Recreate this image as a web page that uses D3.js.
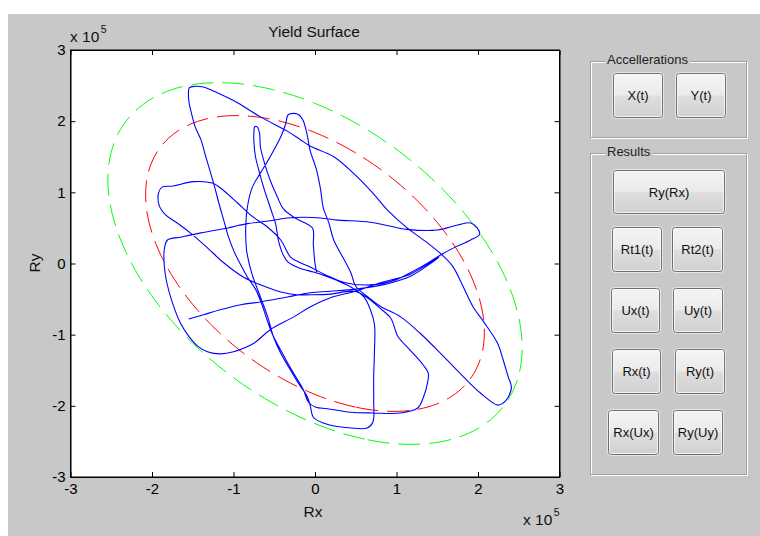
<!DOCTYPE html>
<html><head><meta charset="utf-8">
<script src="https://cdn.jsdelivr.net/npm/d3@7"></script>
<style>
body{margin:0;background:#ffffff;}
svg{display:block;}
text{font-family:"Liberation Sans",Arial,sans-serif;}
</style></head>
<body><svg id="c" width="760" height="536"></svg>
<script>
// ---------- data (values in units of 1e5) ----------
const xTicks = [-3, -2, -1, 0, 1, 2, 3];
const yTicks = [-3, -2, -1, 0, 1, 2, 3];
const yieldRadii = [1.84, 2.25];           // inner surface, outer surface
const yieldColors = ["#ff0000", "#00ff00"];
const yieldInteraction = 0.93;             // Rx^2 + Ry^2 + c*Rx*Ry = R^2
const responsePath = [
 [0.02,-0.12],[0.00,0.00],[-0.02,0.26],[-0.03,0.50],[-0.14,0.58],[-0.26,0.65],[-0.39,0.77],[-0.46,0.93],[-0.55,1.17],[-0.62,1.41],[-0.67,1.64],[-0.68,1.83],[-0.71,1.92],[-0.74,1.92],[-0.75,1.83],[-0.75,1.71],[-0.73,1.50],[-0.68,1.27],[-0.62,1.03],[-0.55,0.79],[-0.48,0.54],[-0.45,0.33],[-0.39,0.12],[-0.33,0.02],[-0.20,-0.06],[-0.02,-0.12],[0.07,-0.15],[0.25,-0.23],[0.44,-0.33],
 [0.60,-0.47],[0.68,-0.65],[0.73,-0.86],[0.73,-1.22],[0.72,-1.59],[0.72,-1.92],[0.71,-2.23],[0.64,-2.31],[0.35,-2.30],[0.10,-2.24],[-0.02,-2.16],[-0.06,-1.99],[-0.10,-1.86],[-0.20,-1.69],[-0.30,-1.50],[-0.42,-1.26],[-0.51,-1.03],[-0.58,-0.75],[-0.67,-0.47],[-0.78,-0.12],[-0.84,0.19],[-0.85,0.51],[-0.83,0.79],[-0.77,1.07],[-0.67,1.27],[-0.55,1.50],[-0.42,1.78],[-0.36,1.96],[-0.33,2.09],[-0.26,2.11],[-0.20,2.09],[-0.15,2.02],[-0.10,1.83],[-0.06,1.59],[0.02,1.31],[0.07,1.03],[0.10,0.79],[0.17,0.57],[0.23,0.33],[0.34,0.09],[0.44,-0.13],[0.50,-0.32],
 [0.66,-0.48],[0.80,-0.60],[1.05,-0.75],[1.29,-0.98],[1.58,-1.31],[1.82,-1.59],[2.03,-1.82],[2.24,-1.99],[2.31,-1.96],[2.37,-1.88],[2.41,-1.74],[2.37,-1.59],[2.31,-1.36],[2.24,-1.12],[2.07,-0.82],[1.94,-0.61],[1.82,-0.33],[1.69,-0.04],[1.55,0.13],[1.38,0.29],[1.13,0.50],[0.89,0.75],[0.71,0.99],[0.47,1.27],[0.23,1.50],[-0.06,1.65],[-0.18,1.74],[-0.34,1.86],[-0.67,2.06],[-0.95,2.26],[-1.20,2.40],[-1.37,2.48],[-1.47,2.49],[-1.54,2.47],
 [-1.55,2.30],[-1.52,2.13],[-1.47,1.92],[-1.40,1.74],[-1.34,1.50],[-1.28,1.27],[-1.23,1.07],[-1.18,0.85],[-1.12,0.61],[-1.06,0.37],[-0.99,0.16],[-0.91,-0.02],[-0.83,-0.19],[-0.73,-0.36],[-0.66,-0.55],[-0.58,-0.82],[-0.52,-1.00],[-0.42,-1.22],[-0.33,-1.41],[-0.21,-1.64],[-0.14,-1.78],[-0.08,-1.95],[0.01,-2.02],[0.15,-2.04],[0.44,-2.09],[0.72,-2.10],[1.05,-2.10],[1.26,-2.03],[1.33,-1.88],[1.38,-1.68],[1.39,-1.54],[1.33,-1.43],[1.17,-1.22],[1.02,-1.03],[0.93,-0.77],[0.80,-0.63],[0.63,-0.47],[0.48,-0.39],
 [0.19,-0.43],[-0.06,-0.44],[-0.23,-0.44],[-0.42,-0.40],[-0.67,-0.30],[-0.88,-0.19],[-1.12,0.01],[-1.32,0.22],[-1.53,0.43],[-1.69,0.57],[-1.83,0.68],[-1.91,0.81],[-1.92,0.99],[-1.88,1.07],[-1.74,1.09],[-1.49,1.15],[-1.26,1.13],[-1.16,1.06],[-0.95,0.85],[-0.79,0.68],[-0.58,0.51],[-0.42,0.33],[-0.30,0.09],[-0.18,0.01],[-0.06,-0.05],[0.13,-0.16],[0.37,-0.27],[0.68,-0.30],[0.99,-0.23],[1.17,-0.13],[1.36,-0.01],[1.54,0.12],[1.72,0.23],[1.91,0.33],[2.02,0.41],[1.99,0.50],[1.91,0.57],[1.75,0.54],[1.50,0.47],[1.13,0.48],[0.68,0.58],[0.28,0.61],[0.07,0.64],[-0.14,0.65],[-0.34,0.64],[-0.55,0.60],[-0.83,0.56],[-1.07,0.50],[-1.40,0.43],[-1.65,0.37],[-1.81,0.33],[-1.85,0.19],[-1.85,-0.02],[-1.82,-0.26],[-1.75,-0.55],[-1.65,-0.84],[-1.55,-1.02],[-1.44,-1.16],[-1.32,-1.24],[-1.16,-1.27],[-1.00,-1.24],[-0.75,-1.12],[-0.55,-0.93],[-0.26,-0.75],[-0.06,-0.61],[0.19,-0.48],[0.50,-0.39],[0.80,-0.27],[1.17,-0.15],[1.52,0.09],
 [1.17,-0.18],[0.87,-0.29],[0.50,-0.36],[0.19,-0.39],[-0.06,-0.41],[-0.34,-0.47],[-0.67,-0.54],[-0.91,-0.58],[-1.16,-0.65],[-1.37,-0.72],[-1.55,-0.78]
];
const panelTitles = ["Accellerations", "Results"];
const buttonLabels = ["X(t)","Y(t)","Ry(Rx)","Rt1(t)","Rt2(t)","Ux(t)","Uy(t)","Rx(t)","Ry(t)","Rx(Ux)","Ry(Uy)"];

// ---------- layout ----------
const svg = d3.select("#c");
const W = 760, H = 536;
const plot = {l: 70.5, r: 559.5, t: 50, b: 477};
const bg = "#c8c8c8";
const font = '"Liberation Sans",Arial,sans-serif';

svg.append("rect").attr("x", 8).attr("y", 14).attr("width", W - 8).attr("height", H - 14).attr("fill", bg);

const x = d3.scaleLinear().domain([-3, 3]).range([plot.l, plot.r]);
const y = d3.scaleLinear().domain([-3, 3]).range([plot.b, plot.t]);

svg.append("rect").attr("x", plot.l).attr("y", plot.t)
  .attr("width", plot.r - plot.l).attr("height", plot.b - plot.t).attr("fill", "#fff");

svg.append("clipPath").attr("id", "clp").append("rect")
  .attr("x", plot.l).attr("y", plot.t).attr("width", plot.r - plot.l).attr("height", plot.b - plot.t);
const g = svg.append("g").attr("clip-path", "url(#clp)");

// yield surfaces
const c = yieldInteraction;
yieldRadii.forEach((R, i) => {
  const au = R / Math.sqrt(1 + c / 2), av = R / Math.sqrt(1 - c / 2);
  const pts = d3.range(0, 361, 2).map(deg => {
    const t = deg * Math.PI / 180 + Math.PI * 0.75;
    const u = au * Math.cos(t), v = av * Math.sin(t);
    return [(u + v) / Math.SQRT2, (u - v) / Math.SQRT2];
  });
  g.append("path").datum(pts)
    .attr("d", d3.line().x(d => x(d[0])).y(d => y(d[1])))
    .attr("fill", "none").attr("stroke", yieldColors[i]).attr("stroke-width", 1)
    .attr("stroke-dasharray", "22,9");
});

// response path
g.append("path").datum(responsePath)
  .attr("d", d3.line().x(d => x(d[0])).y(d => y(d[1])).curve(d3.curveCatmullRom.alpha(0.5)))
  .attr("fill", "none").attr("stroke", "#0000ff").attr("stroke-width", 1.1)
  .attr("stroke-linejoin", "round");

// axes
const fs = 15;
const ax = svg.append("g").attr("transform", `translate(0,${plot.b})`)
  .call(d3.axisBottom(x).tickValues(xTicks).tickFormat(d => d < 0 ? "-" + Math.abs(d) : String(d))
    .tickSizeInner(-5).tickSizeOuter(0).tickPadding(6));
const ay = svg.append("g").attr("transform", `translate(${plot.l},0)`)
  .call(d3.axisLeft(y).tickValues(yTicks).tickFormat(d => d < 0 ? "-" + Math.abs(d) : String(d))
    .tickSizeInner(-5).tickSizeOuter(0).tickPadding(5));
svg.append("g").attr("transform", `translate(0,${plot.t})`)
  .call(d3.axisTop(x).tickValues(xTicks).tickFormat(() => "").tickSizeInner(-5).tickSizeOuter(0));
svg.append("g").attr("transform", `translate(${plot.r},0)`)
  .call(d3.axisRight(y).tickValues(yTicks).tickFormat(() => "").tickSizeInner(-5).tickSizeOuter(0));
[ax, ay].forEach(a => a.selectAll(".tick text").attr("font-size", fs).attr("fill", "#000").attr("font-family", font));
svg.selectAll(".domain, .tick line").attr("stroke", "#000");
svg.append("rect").attr("x", plot.l).attr("y", plot.t)
  .attr("width", plot.r - plot.l).attr("height", plot.b - plot.t)
  .attr("fill", "none").attr("stroke", "#000").attr("stroke-width", 1);

// titles and labels
svg.append("text").attr("x", 314).attr("y", 37).attr("text-anchor", "middle")
  .attr("font-size", 15.5).attr("fill", "#111").text("Yield Surface");
svg.append("text").attr("x", 313).attr("y", 517).attr("text-anchor", "middle")
  .attr("font-size", 15.5).attr("fill", "#111").text("Rx");
svg.append("text").attr("transform", "translate(40,263) rotate(-90)").attr("text-anchor", "middle")
  .attr("font-size", 15.5).attr("fill", "#111").text("Ry");
function expo(xp, yp) {
  const t = svg.append("text").attr("x", xp).attr("y", yp).attr("font-size", 15.5).attr("fill", "#111");
  t.append("tspan").text("x 10");
  t.append("tspan").attr("dx", 1.5).attr("dy", -9).attr("font-size", 10.5).text("5");
}
expo(70, 42);
expo(523, 525);

// ---------- UI panels ----------
const defs = svg.append("defs");
const gr = defs.append("linearGradient").attr("id", "btn").attr("x1", 0).attr("y1", 0).attr("x2", 0).attr("y2", 1);
[["0%", "#f4f4f4"], ["48%", "#ebebeb"], ["52%", "#dedede"], ["100%", "#d0d0d0"]]
  .forEach(s => gr.append("stop").attr("offset", s[0]).attr("stop-color", s[1]));

const panels = [{x: 590, y: 61, w: 156, h: 76, tx: 604}, {x: 590, y: 153, w: 156, h: 321, tx: 604}];
panels.forEach((p, i) => {
  const pg = svg.append("g");
  pg.append("rect").attr("x", p.x + 1.5).attr("y", p.y + 1.5).attr("width", p.w).attr("height", p.h)
    .attr("fill", "none").attr("stroke", "#ffffff");
  pg.append("rect").attr("x", p.x + 0.5).attr("y", p.y + 0.5).attr("width", p.w).attr("height", p.h)
    .attr("fill", "none").attr("stroke", "#a0a0a0");
  const cover = pg.append("rect").attr("fill", bg);
  const t = pg.append("text").attr("x", p.tx + 3).attr("y", p.y + 2.5).attr("font-size", 13)
    .attr("fill", "#222").text(panelTitles[i]);
  const bb = t.node().getBBox();
  cover.attr("x", bb.x - 2).attr("y", p.y - 2).attr("width", bb.width + 4).attr("height", 6);
});

const buttonRects = [
  [613, 73, 50, 45], [676, 73, 50, 45],
  [613, 170, 112, 44],
  [612, 227, 50, 45], [672, 227, 51, 45],
  [611, 288, 49, 45], [673, 288, 50, 45],
  [612, 349, 49, 45], [675, 349, 50, 45],
  [608, 410, 51, 45], [673, 410, 50, 45]
];
buttonLabels.forEach((lab, i) => {
  const [bx, by, bw, bh] = buttonRects[i];
  const bgp = svg.append("g");
  bgp.append("rect").attr("x", bx - 0.5).attr("y", by - 0.5).attr("width", bw + 1).attr("height", bh + 1)
    .attr("rx", 3.5).attr("fill", "none").attr("stroke", "#e6e6e6");
  bgp.append("rect").attr("x", bx + 0.5).attr("y", by + 0.5).attr("width", bw - 1).attr("height", bh - 1)
    .attr("rx", 3).attr("fill", "url(#btn)").attr("stroke", "#707070");
  bgp.append("rect").attr("x", bx + 1.5).attr("y", by + 1.5).attr("width", bw - 3).attr("height", bh - 3)
    .attr("rx", 2).attr("fill", "none").attr("stroke", "#fbfbfb").attr("stroke-opacity", 0.8);
  bgp.append("text").attr("x", bx + bw / 2).attr("y", by + bh / 2 + 4.5).attr("text-anchor", "middle")
    .attr("font-size", 13).attr("fill", "#111").text(lab);
});
</script>
</body></html>
